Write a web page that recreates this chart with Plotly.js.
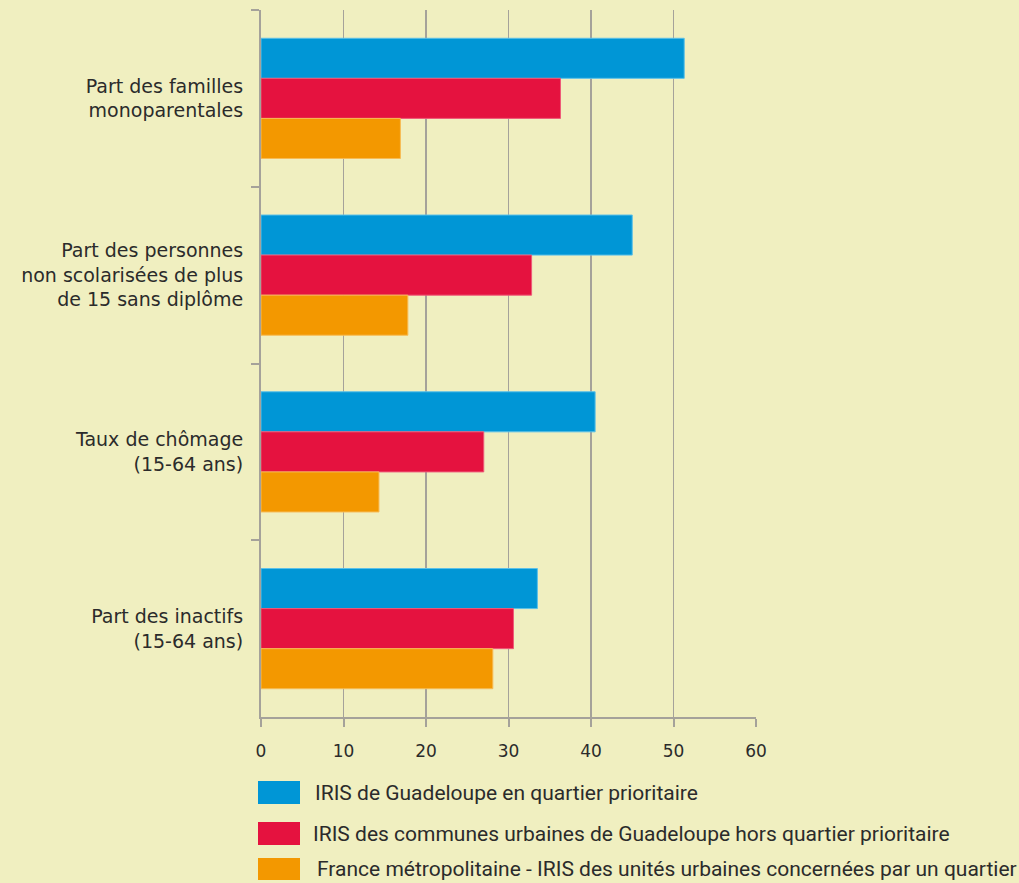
<!DOCTYPE html>
<html>
<head>
<meta charset="utf-8">
<script src="https://cdn.plot.ly/plotly-3.0.1.min.js"></script>
<style>
html,body{margin:0;padding:0;background:#f0efc0;}
#chart{width:1019px;height:883px;}
</style>
</head>
<body>
<div id="chart"></div>
<script>
var categories = [
  "Part des familles<br>monoparentales",
  "Part des personnes<br>non scolarisées de plus<br>de 15 sans diplôme",
  "Taux de chômage<br>(15-64 ans)",
  "Part des inactifs<br>(15-64 ans)"
];
var seriesNames = [
  "IRIS de Guadeloupe en quartier prioritaire",
  "IRIS des communes urbaines de Guadeloupe hors quartier prioritaire",
  "France métropolitaine - IRIS des unités urbaines concernées par un quartier"
];
var guadeloupeQP = [51.3, 45.0, 40.5, 33.5];
var guadeloupeHorsQP = [36.3, 32.8, 27.0, 30.6];
var franceMetro = [16.9, 17.8, 14.3, 28.1];
var xTicks = [0, 10, 20, 30, 40, 50, 60];

var colors = ["#0096d6", "#e5123f", "#f39800"];
var lineColors = ["#5cc0e8", "#ee5a78", "#f7bb55"];
var values = [guadeloupeQP, guadeloupeHorsQP, franceMetro];

var traces = values.map(function(v, i){
  return {
    type: "bar",
    orientation: "h",
    y: categories,
    x: v,
    name: seriesNames[i],
    marker: {color: colors[i], line: {color: lineColors[i], width: 1}},
    hoverinfo: "x",
    showlegend: false
  };
});

var fig = document.getElementById("chart");
var W = 1019, H = 883;
var ml = 261, mr = 263, mt = 10, mb = 166;
var pw = W - ml - mr, ph = H - mt - mb;
function px2paperX(px){ return (px - ml) / pw; }
function px2paperY(py){ return (H - mb - py) / ph; }
var swY = [[781, 804], [822, 845], [858, 880]];
var txtX = [313, 311, 315];
var shapes2 = [], ann2 = [];
for (var k = 0; k < 3; k++) {
  shapes2.push({
    type: "rect", xref: "paper", yref: "paper",
    x0: px2paperX(258), x1: px2paperX(300),
    y0: px2paperY(swY[k][1]), y1: px2paperY(swY[k][0]),
    fillcolor: colors[k], line: {width: 0}
  });
  ann2.push({
    xref: "paper", yref: "paper",
    x: px2paperX(txtX[k]), y: px2paperY((swY[k][0] + swY[k][1]) / 2),
    xanchor: "left", yanchor: "middle",
    text: seriesNames[k], showarrow: false,
    font: {family: "Roboto, 'Open Sans', sans-serif", size: 21, color: "#2b2b2b"}
  });
}

var tickFont = {family: "'DejaVu Sans', sans-serif", size: 19, color: "#2b2b2b"};

var layout = {
  width: W, height: H,
  paper_bgcolor: "#f0efc0",
  plot_bgcolor: "#f0efc0",
  margin: {l: ml, r: mr, t: mt, b: mb, pad: 0},
  barmode: "group",
  bargap: 0.32,
  bargroupgap: 0,
  showlegend: false,
  font: tickFont,
  xaxis: {
    range: [0, 60],
    tickvals: xTicks,
    ticktext: xTicks.map(String),
    showgrid: true, gridcolor: "#a5a29a", gridwidth: 1.5,
    zeroline: false,
    showline: true, linecolor: "#a5a29a", linewidth: 2,
    ticks: "outside", ticklen: 8, tickcolor: "#a5a29a", tickwidth: 2,
    ticklabelstandoff: 10,
    tickfont: {family: "'DejaVu Sans', sans-serif", size: 17, color: "#2b2b2b"},
    fixedrange: true
  },
  yaxis: {
    type: "category",
    autorange: false,
    range: [3.5, -0.5],
    tickson: "boundaries",
    ticks: "outside", ticklen: 8, tickcolor: "#a5a29a", tickwidth: 2,
    showline: true, linecolor: "#a5a29a", linewidth: 2,
    showgrid: false, zeroline: false,
    ticklabelstandoff: 12,
    tickfont: tickFont,
    fixedrange: true
  },
  shapes: shapes2,
  annotations: ann2
};

Plotly.newPlot(fig, traces, layout, {displayModeBar: false, staticPlot: true});
</script>
</body>
</html>
